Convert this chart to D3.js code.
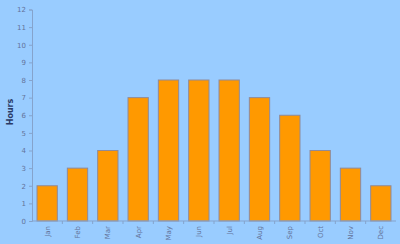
<!DOCTYPE html>
<html>
<head>
<meta charset="utf-8">
<script src="https://cdn.jsdelivr.net/npm/d3@7"></script>
<style>
  body { margin: 0; background: #99ccff; }
  svg { display: block; }
  .tick text { font-family: "DejaVu Sans", sans-serif; font-size: 7px; fill: #63739a; }
</style>
</head>
<body>
<svg width="400" height="244"></svg>
<script>
const months = ['Jan', 'Feb', 'Mar', 'Apr', 'May', 'Jun', 'Jul', 'Aug', 'Sep', 'Oct', 'Nov', 'Dec'];
const hours = [2, 3, 4, 7, 8, 8, 8, 7, 6, 4, 3, 2];
const yTicks = [0, 1, 2, 3, 4, 5, 6, 7, 8, 9, 10, 11, 12];

const svg = d3.select('svg');
const width = +svg.attr('width');
const height = +svg.attr('height');
const margin = { top: 9.5, right: 4, bottom: 23, left: 32 };

svg.append('rect')
  .attr('width', width)
  .attr('height', height)
  .attr('fill', '#99ccff');

const x = d3.scaleBand()
  .domain(months)
  .range([margin.left, width - margin.right])
  .paddingInner(0.33)
  .paddingOuter(0.165);

const y = d3.scaleLinear()
  .domain([0, 12])
  .range([height - margin.bottom, margin.top]);

// bars
svg.append('g')
  .selectAll('rect')
  .data(hours)
  .enter()
  .append('rect')
    .attr('x', (d, i) => x(months[i]))
    .attr('y', d => y(d))
    .attr('width', x.bandwidth())
    .attr('height', d => y(0) - y(d))
    .attr('fill', '#ff9900')
    .attr('stroke', '#8f8a9a')
    .attr('stroke-width', 1);

// y axis
const yAxis = svg.append('g')
  .attr('transform', `translate(${margin.left},0)`)
  .call(d3.axisLeft(y).tickValues(yTicks).tickSize(3).tickPadding(3));

// x axis, ticks sit between the bands
const xAxis = svg.append('g')
  .attr('transform', `translate(0,${y(0)})`);

xAxis.append('line')
  .attr('x1', margin.left)
  .attr('x2', width - margin.right)
  .attr('stroke', '#85a3cc');

xAxis.selectAll('.sep')
  .data(months.slice(1))
  .enter()
  .append('line')
    .attr('class', 'sep')
    .attr('x1', d => x(d) - x.step() * x.paddingInner() / 2)
    .attr('x2', d => x(d) - x.step() * x.paddingInner() / 2)
    .attr('y2', 3)
    .attr('stroke', '#85a3cc');

xAxis.selectAll('.lbl')
  .data(months)
  .enter()
  .append('text')
    .attr('class', 'lbl')
    .attr('transform', d => `translate(${x(d) + x.bandwidth() / 2 + 2.5},5) rotate(-90)`)
    .attr('text-anchor', 'end')
    .attr('font-family', 'DejaVu Sans, sans-serif')
    .attr('font-size', 7)
    .attr('fill', '#63739a')
    .text(d => d);

yAxis.select('.domain').attr('stroke', '#85a3cc');
yAxis.selectAll('.tick line').attr('stroke', '#85a3cc');

svg.append('text')
  .attr('transform', 'translate(13,112) rotate(-90)')
  .attr('text-anchor', 'middle')
  .attr('font-family', 'DejaVu Sans, sans-serif')
  .attr('font-size', 8)
  .attr('font-weight', 'bold')
  .attr('fill', '#2a3a66')
  .text('Hours');
</script>
</body>
</html>
